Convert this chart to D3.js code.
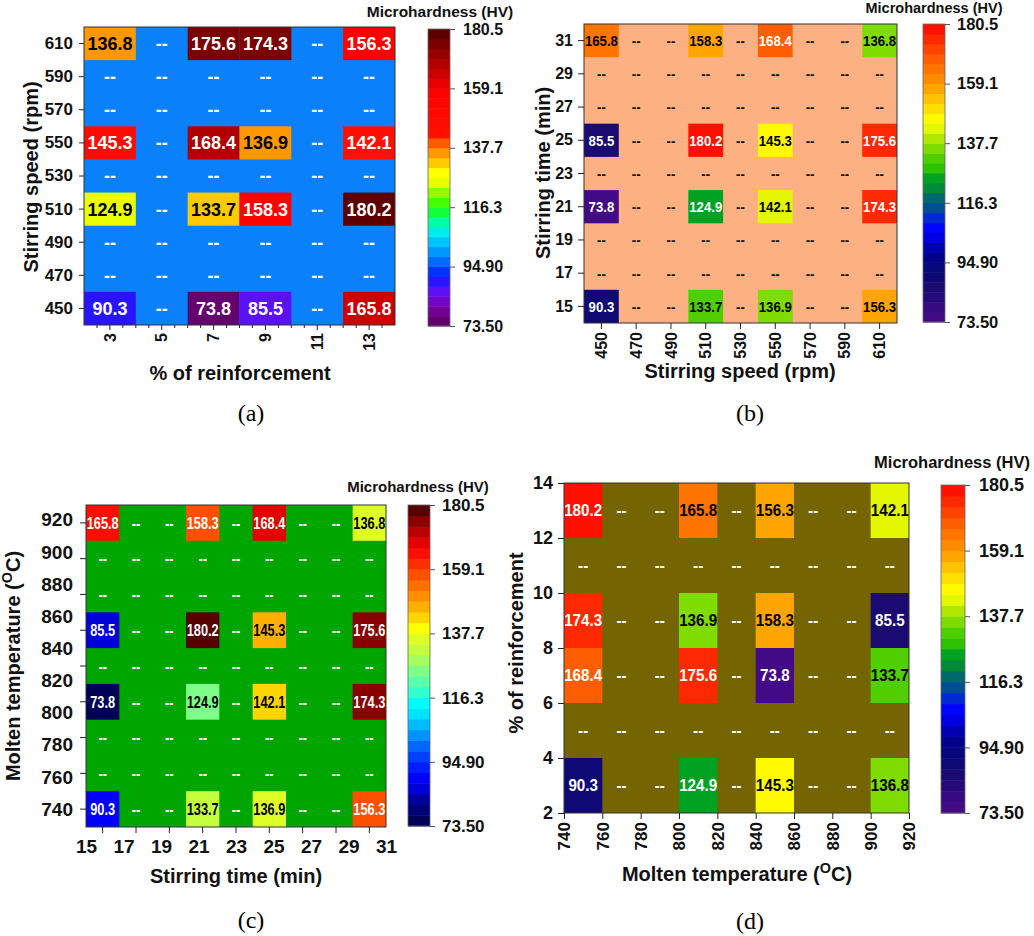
<!DOCTYPE html>
<html><head><meta charset="utf-8">
<script src="https://cdn.jsdelivr.net/npm/d3@7"></script>
<style>
body{margin:0;background:#fff}
svg text{font-family:"Liberation Sans",Arial,Helvetica,sans-serif;font-weight:bold}
svg text.caption{font-family:"Liberation Serif","Times New Roman",serif;font-weight:normal}
</style></head><body>
<svg id="chart" width="1034" height="936"></svg>
<script>
// ================= DATA =================
const valueRange = [73.5, 180.5];
const bandCount = 30;
const colorbarTicks = [73.5, 94.9, 116.3, 137.7, 159.1, 180.5];
const colorbarTickLabels = ["73.50", "94.90", "116.3", "137.7", "159.1", "180.5"];

// (a) % reinforcement (columns) x stirring speed (rows, ascending)
const aReinforcement = [3, 5, 7, 9, 11, 13];
const aSpeed = [450, 470, 490, 510, 530, 550, 570, 590, 610];
const aValues = [
  [90.3, null, 73.8, 85.5, null, 165.8],
  [null, null, null, null, null, null],
  [null, null, null, null, null, null],
  [124.9, null, 133.7, 158.3, null, 180.2],
  [null, null, null, null, null, null],
  [145.3, null, 168.4, 136.9, null, 142.1],
  [null, null, null, null, null, null],
  [null, null, null, null, null, null],
  [136.8, null, 175.6, 174.3, null, 156.3]
];

// (b) stirring speed (columns) x stirring time (rows, ascending)
const bSpeed = [450, 470, 490, 510, 530, 550, 570, 590, 610];
const bTime = [15, 17, 19, 21, 23, 25, 27, 29, 31];
const bValues = [
  [90.3, null, null, 133.7, null, 136.9, null, null, 156.3],
  [null, null, null, null, null, null, null, null, null],
  [null, null, null, null, null, null, null, null, null],
  [73.8, null, null, 124.9, null, 142.1, null, null, 174.3],
  [null, null, null, null, null, null, null, null, null],
  [85.5, null, null, 180.2, null, 145.3, null, null, 175.6],
  [null, null, null, null, null, null, null, null, null],
  [null, null, null, null, null, null, null, null, null],
  [165.8, null, null, 158.3, null, 168.4, null, null, 136.8]
];

// (c) stirring time (columns) x molten temperature (rows, ascending)
const cTime = [15, 17, 19, 21, 23, 25, 27, 29, 31];
const cTempRows = [740, 760, 780, 800, 820, 840, 880, 900, 920];
const cTempLabels = [740, 760, 780, 800, 820, 840, 860, 880, 900, 920];
const cValues = [
  [90.3, null, null, 133.7, null, 136.9, null, null, 156.3],
  [null, null, null, null, null, null, null, null, null],
  [null, null, null, null, null, null, null, null, null],
  [73.8, null, null, 124.9, null, 142.1, null, null, 174.3],
  [null, null, null, null, null, null, null, null, null],
  [85.5, null, null, 180.2, null, 145.3, null, null, 175.6],
  [null, null, null, null, null, null, null, null, null],
  [null, null, null, null, null, null, null, null, null],
  [165.8, null, null, 158.3, null, 168.4, null, null, 136.8]
];

// (d) molten temperature bins (columns, lower edge) x % reinforcement bins (rows, lower edge)
const dTempBins = [740, 760, 780, 800, 820, 840, 860, 880, 900];
const dTempTicks = [740, 760, 780, 800, 820, 840, 860, 880, 900, 920];
const dReinfBins = [2, 4, 6, 8, 10, 12];
const dReinfTicks = [2, 4, 6, 8, 10, 12, 14];
const dValues = [
  [90.3, null, null, 124.9, null, 145.3, null, null, 136.8],
  [null, null, null, null, null, null, null, null, null],
  [168.4, null, null, 175.6, null, 73.8, null, null, 133.7],
  [174.3, null, null, 136.9, null, 158.3, null, null, 85.5],
  [null, null, null, null, null, null, null, null, null],
  [180.2, null, null, 165.8, null, 156.3, null, null, 142.1]
];

// colour maps (value stops -> colour)
const aStopValues = [73.5,77,81,85,89,93,97,101,105,109,113,117,121,125,129,133,137,140,143,158,162,166,170,174,178,180.5];
const aStopColors = ["#5a005a","#6e0080","#7a00b0","#6a10f0","#3010ff","#0030ff","#0070ff","#00a0ff","#00d0ff","#00ffe0","#00ff60","#30ff00","#80ff00","#e8ff00","#ffff00","#ffc000","#ff8800","#ff5000","#ff1000","#ff0000","#e00000","#c00000","#a50000","#850000","#650000","#500000"];
const bdStopValues = [73.5,80,86,92,98,103,107,110,113,116,119,122,125.5,129,132.5,136,139,142,146,150,154,158,162,166,170,174,178,180.5];
const bdStopColors = ["#4a0a8a","#300a80","#1a0a72","#080878","#000090","#0000d8","#0000ff","#0020e0","#0040b0","#005a80","#007060","#009030","#00a420","#30c400","#50d000","#80dc00","#a8e400","#d8f400","#ffff00","#ffe000","#ffc000","#ffa000","#ff8400","#ff6c00","#ff5000","#ff3000","#ff1800","#ff0000"];
const cStopValues = [73.5,78,82,86,90,95,99,103,107,111,115,118,121,124,127,130,134,137,139.5,142,145,148,152,156,160,164,167,170,173,177,180.5];
const cStopColors = ["#000048","#00006c","#000098","#0000d8","#0000ff","#0030ff","#0058ff","#0088ff","#00b8ff","#00e4ff","#00ffff","#30ffd0","#50ffb0","#70ff98","#90ff70","#b0ff50","#d0ff30","#e4ff20","#ffff00","#ffe000","#ffc000","#ffa000","#ff8000","#ff5c00","#ff3800","#ff1000","#f00000","#d00000","#a80000","#700000","#3a0000"];

// ================= DRAWING =================
const svg = d3.select("#chart");

function makeColorizer(stopValues, stopColors) {
  const s = d3.scaleLinear().domain(stopValues).range(stopColors).interpolate(d3.interpolateRgb).clamp(true);
  const step = (valueRange[1] - valueRange[0]) / bandCount;
  const band = i => s(valueRange[0] + (i + 0.5) * step);
  const idx = v => Math.max(0, Math.min(bandCount - 1, Math.floor((v - valueRange[0]) / step)));
  return { band, color: v => band(idx(v)), step };
}

function flatten(values, xKeys, yKeys) {
  const out = [];
  yKeys.forEach((yk, j) => xKeys.forEach((xk, i) => out.push({ xk, yk, v: values[j][i] })));
  return out;
}

function drawCells(p) {
  const g = svg.append("g");
  const data = flatten(p.values, p.xKeys, p.yKeys);
  g.append("rect").attr("x", p.plot.x0).attr("y", p.plot.y0)
    .attr("width", p.plot.x1 - p.plot.x0).attr("height", p.plot.y1 - p.plot.y0)
    .attr("fill", p.bg);
  g.selectAll("rect.cell").data(data.filter(d => d.v != null)).join("rect")
    .attr("class", "cell")
    .attr("x", d => p.rect(d).x).attr("y", d => p.rect(d).y)
    .attr("width", d => p.rect(d).w).attr("height", d => p.rect(d).h)
    .attr("fill", d => p.cmap.color(d.v));
  g.selectAll("text.val").data(data).join("text")
    .attr("class", "val")
    .attr("transform", d => { const r = p.rect(d); return `translate(${r.x + r.w / 2},${r.y + r.h / 2}) scale(${p.sx},1)`; })
    .attr("text-anchor", "middle").attr("dy", "0.36em")
    .style("font-size", p.valueSize + "px")
    .attr("fill", d => d.v == null ? p.dashColor : (d.v >= p.darkText[0] && d.v <= p.darkText[1] ? "#000" : "#fff"))
    .text(d => d.v == null ? "--" : d.v.toFixed(1));
  g.append("rect").attr("x", p.plot.x0).attr("y", p.plot.y0)
    .attr("width", p.plot.x1 - p.plot.x0).attr("height", p.plot.y1 - p.plot.y0)
    .attr("fill", "none").attr("stroke", "#333").attr("stroke-width", 1);
  return g;
}

function drawColorbar(cb, cmap) {
  const g = svg.append("g");
  const y = d3.scaleLinear().domain(valueRange).range([cb.y1, cb.y0]);
  const bands = d3.range(bandCount);
  g.selectAll("rect.band").data(bands).join("rect")
    .attr("x", cb.x).attr("width", cb.w)
    .attr("y", i => y(valueRange[0] + (i + 1) * cmap.step))
    .attr("height", i => y(valueRange[0] + i * cmap.step) - y(valueRange[0] + (i + 1) * cmap.step) + 0.5)
    .attr("fill", i => cmap.band(i));
  g.append("rect").attr("x", cb.x).attr("y", cb.y0).attr("width", cb.w).attr("height", cb.y1 - cb.y0)
    .attr("fill", "none").attr("stroke", "#666").attr("stroke-width", 0.8);
  g.append("g").attr("transform", `translate(${cb.x + cb.w},0)`).style("color", "#555")
    .call(d3.axisRight(y).tickValues(colorbarTicks).tickFormat((d, i) => colorbarTickLabels[i]).tickSize(5).tickPadding(cb.pad))
    .call(a => a.select(".domain").remove())
    .call(a => a.selectAll("text").attr("fill", "#111").style("font-size", cb.font + "px"));
  g.append("text").attr("x", cb.tx).attr("y", cb.ty).attr("text-anchor", "middle")
    .style("font-size", cb.tfont + "px").attr("fill", "#111").text("Microhardness (HV)");
}

function axisTitle(x, y, rotate, size, parts) {
  const t = svg.append("text").attr("transform", `translate(${x},${y})${rotate ? " rotate(-90)" : ""}`)
    .attr("text-anchor", "middle").style("font-size", size + "px").attr("fill", "#111");
  parts.forEach(p => {
    const ts = t.append("tspan").text(p.t);
    if (p.sup) ts.style("font-size", (size * 0.72) + "px").attr("dy", -8);
    if (p.down) ts.attr("dy", 8);
  });
}
const tempTitle = [{ t: "Molten temperature (" }, { t: "O", sup: true }, { t: "C)", down: true }];

function caption(x, y, t) {
  svg.append("text").attr("class", "caption").attr("x", x).attr("y", y).attr("text-anchor", "middle")
    .style("font-size", "24px").attr("fill", "#000").text(t);
}

function styleAxis(a, size) {
  a.select(".domain").remove();
  a.selectAll("text").attr("fill", "#111").style("font-size", size + "px");
}
function rotateLabels(a, off) {
  a.selectAll("text").attr("transform", "rotate(-90)").attr("text-anchor", "end")
    .attr("x", -off).attr("y", 0).attr("dy", "0.35em");
}

// ---------- Panel (a) ----------
const aPlot = { x0: 84, y0: 27, x1: 395, y1: 325 };
const ax = d3.scaleBand().domain(aReinforcement).range([aPlot.x0, aPlot.x1]);
const ay = d3.scaleBand().domain(aSpeed.slice().reverse()).range([aPlot.y0, aPlot.y1]);
const aMap = makeColorizer(aStopValues, aStopColors);
drawCells({
  plot: aPlot, values: aValues, xKeys: aReinforcement, yKeys: aSpeed, bg: "#0a80fb", cmap: aMap,
  rect: d => ({ x: ax(d.xk), y: ay(d.yk), w: ax.bandwidth(), h: ay.bandwidth() }),
  valueSize: 18, sx: 1, dashColor: "#fff", darkText: [120, 140]
});
svg.append("g").attr("transform", `translate(${aPlot.x0},0)`).style("color", "#222")
  .call(d3.axisLeft(ay).tickSize(5).tickPadding(6).tickSizeOuter(0)).call(a => styleAxis(a, 17));
svg.append("g").attr("transform", `translate(0,${aPlot.y1})`).style("color", "#222")
  .call(d3.axisBottom(ax).tickSize(5).tickSizeOuter(0)).call(a => { styleAxis(a, 16); rotateLabels(a, 8); });
// minor ticks (quarters of a category step)
const aMinor = [];
aReinforcement.forEach(c => [-0.25, 0.25, 0.5].forEach(f => {
  const px = ax(c) + ax.bandwidth() / 2 + f * ax.bandwidth();
  if (px > aPlot.x0 + 1 && px < aPlot.x1 - 1) aMinor.push(px);
}));
svg.append("g").selectAll("line").data(aMinor).join("line")
  .attr("x1", d => d).attr("x2", d => d).attr("y1", aPlot.y1).attr("y2", aPlot.y1 + 3)
  .attr("stroke", "#222");
drawColorbar({ x: 428, y0: 29, y1: 326, w: 22, pad: 8, font: 16, tx: 440, ty: 17, tfont: 15.5 }, aMap);
axisTitle(240, 380, false, 20, [{ t: "% of reinforcement" }]);
axisTitle(38, 177, true, 20, [{ t: "Stirring speed (rpm)" }]);
caption(251, 421, "(a)");

// ---------- Panel (b) ----------
const bPlot = { x0: 584, y0: 24, x1: 897, y1: 323 };
const bx = d3.scaleBand().domain(bSpeed).range([bPlot.x0, bPlot.x1]);
const by = d3.scaleBand().domain(bTime.slice().reverse()).range([bPlot.y0, bPlot.y1]);
const bMap = makeColorizer(bdStopValues, bdStopColors);
drawCells({
  plot: bPlot, values: bValues, xKeys: bSpeed, yKeys: bTime, bg: "#fdb183", cmap: bMap,
  rect: d => ({ x: bx(d.xk), y: by(d.yk), w: bx.bandwidth(), h: by.bandwidth() }),
  valueSize: 15, sx: 0.88, dashColor: "#111", darkText: [130, 166]
});
svg.append("g").attr("transform", `translate(${bPlot.x0},0)`).style("color", "#222")
  .call(d3.axisLeft(by).tickSize(6).tickPadding(5).tickSizeOuter(0)).call(a => styleAxis(a, 16));
svg.append("g").attr("transform", `translate(0,${bPlot.y1})`).style("color", "#222")
  .call(d3.axisBottom(bx).tickSize(6).tickSizeOuter(0)).call(a => { styleAxis(a, 16); rotateLabels(a, 9); });
drawColorbar({ x: 923, y0: 24, y1: 322, w: 22, pad: 7, font: 16.5, tx: 934, ty: 13, tfont: 14.5 }, bMap);
axisTitle(740, 378, false, 20, [{ t: "Stirring speed (rpm)" }]);
axisTitle(550, 173, true, 20, [{ t: "Stirring time (min)" }]);
caption(750, 421, "(b)");

// ---------- Panel (c) ----------
const cPlot = { x0: 86, y0: 505, x1: 386, y1: 827 };
const cx = d3.scaleBand().domain(cTime).range([cPlot.x0, cPlot.x1]);
const cy = d3.scaleBand().domain(cTempRows.slice().reverse()).range([cPlot.y0, cPlot.y1]);
const cMap = makeColorizer(cStopValues, cStopColors);
drawCells({
  plot: cPlot, values: cValues, xKeys: cTime, yKeys: cTempRows, bg: "#00a600", cmap: cMap,
  rect: d => ({ x: cx(d.xk), y: cy(d.yk), w: cx.bandwidth(), h: cy.bandwidth() }),
  valueSize: 16, sx: 0.8, dashColor: "#fff", darkText: [120, 150]
});
svg.append("g").attr("transform", `translate(${cPlot.x0},0)`).style("color", "#222")
  .call(d3.axisLeft(cy).tickSize(6).tickFormat("").tickSizeOuter(0)).call(a => styleAxis(a, 19));
svg.append("g").attr("transform", `translate(0,${cPlot.y1})`).style("color", "#222")
  .call(d3.axisBottom(cx).tickSize(6).tickFormat("").tickSizeOuter(0)).call(a => styleAxis(a, 19));
const cxLab = d3.scalePoint().domain(cTime).range([cPlot.x0, cPlot.x1]);
const cyLab = d3.scalePoint().domain(cTempLabels.slice().reverse())
  .range([cy(cTempRows[cTempRows.length - 1]) + cy.bandwidth() / 2 - 3, cy(cTempRows[0]) + cy.bandwidth() / 2]);
svg.append("g").attr("transform", `translate(0,${cPlot.y1})`).style("color", "#222")
  .call(d3.axisBottom(cxLab).tickSize(0).tickPadding(13)).call(a => styleAxis(a, 19));
svg.append("g").attr("transform", `translate(${cPlot.x0},0)`).style("color", "#222")
  .call(d3.axisLeft(cyLab).tickSize(0).tickPadding(13)).call(a => styleAxis(a, 19));
drawColorbar({ x: 408, y0: 505, y1: 826, w: 22, pad: 7, font: 17, tx: 418, ty: 492, tfont: 15 }, cMap);
axisTitle(236, 883, false, 20, [{ t: "Stirring time (min)" }]);
axisTitle(20, 666, true, 20, tempTitle);
caption(251, 928, "(c)");

// ---------- Panel (d) ----------
const dPlot = { x0: 564, y0: 483, x1: 909, y1: 813 };
const dx = d3.scaleLinear().domain([dTempTicks[0], dTempTicks[dTempTicks.length - 1]]).range([dPlot.x0, dPlot.x1]);
const dy = d3.scaleLinear().domain([dReinfTicks[0], dReinfTicks[dReinfTicks.length - 1]]).range([dPlot.y1, dPlot.y0]);
const dMap = makeColorizer(bdStopValues, bdStopColors);
const dTempStep = dTempBins[1] - dTempBins[0];
const dReinfStep = dReinfBins[1] - dReinfBins[0];
drawCells({
  plot: dPlot, values: dValues, xKeys: dTempBins, yKeys: dReinfBins, bg: "#756500", cmap: dMap,
  rect: d => ({ x: dx(d.xk), y: dy(d.yk + dReinfStep), w: dx(d.xk + dTempStep) - dx(d.xk), h: dy(d.yk) - dy(d.yk + dReinfStep) }),
  valueSize: 16, sx: 0.95, dashColor: "#fff", darkText: [130, 166]
});
svg.append("g").attr("transform", `translate(${dPlot.x0},0)`).style("color", "#222")
  .call(d3.axisLeft(dy).tickValues(dReinfTicks).tickSize(6).tickPadding(5).tickSizeOuter(0)).call(a => styleAxis(a, 18));
svg.append("g").attr("transform", `translate(0,${dPlot.y1})`).style("color", "#222")
  .call(d3.axisBottom(dx).tickValues(dTempTicks).tickSize(6).tickSizeOuter(0)).call(a => { styleAxis(a, 17); rotateLabels(a, 9); });
drawColorbar({ x: 941, y0: 485, y1: 813, w: 24, pad: 9, font: 18, tx: 952, ty: 468, tfont: 16.5 }, dMap);
axisTitle(737, 881, false, 20, tempTitle);
axisTitle(523, 643, true, 20, [{ t: "% of reinforcement" }]);
caption(750, 929, "(d)");
</script>
</body></html>
